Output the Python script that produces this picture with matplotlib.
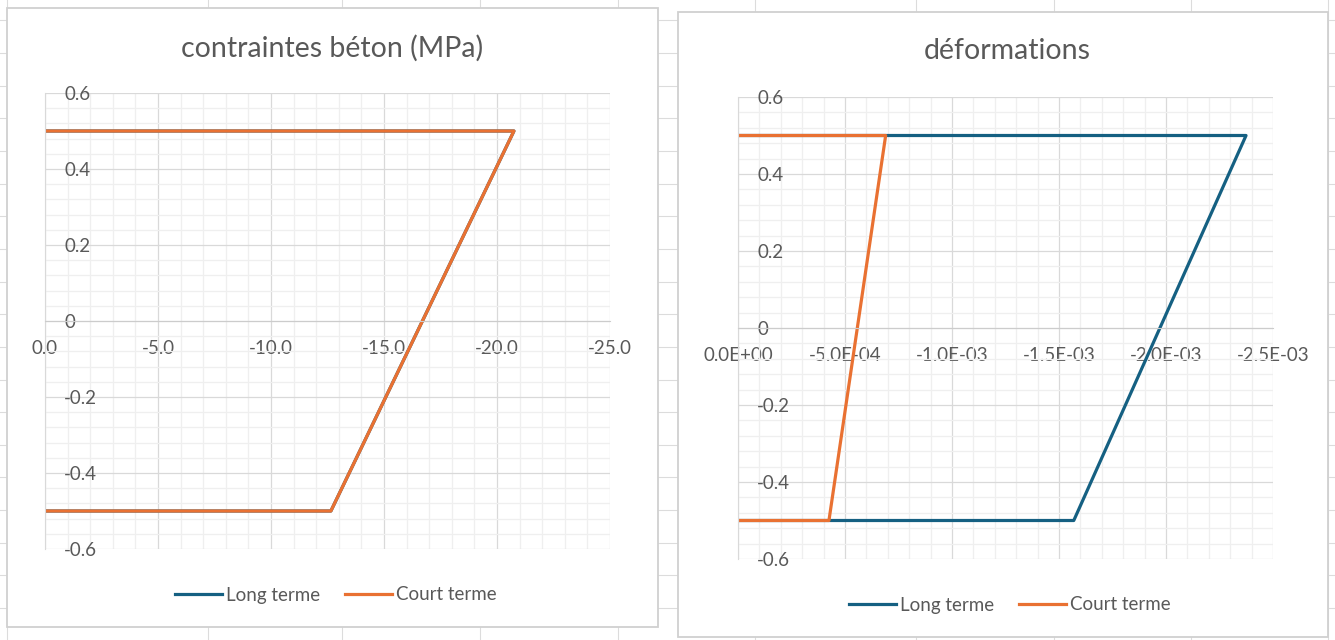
import matplotlib
matplotlib.use("Agg")
import matplotlib.pyplot as plt
from matplotlib.patches import Rectangle
from matplotlib.ticker import FixedLocator, MultipleLocator, FixedFormatter
import numpy as np

plt.rcParams['font.family'] = ['Lato', 'DejaVu Sans']

# Data
depth = [0.5, 0.5, -0.5, -0.5]

stress_long = [0.0, -20.75, -12.65, 0.0]
stress_court = [0.0, -20.75, -12.65, 0.0]

strain_long = [0.0, -2.374e-3, -1.569e-3, 0.0]
strain_court = [0.0, -6.9e-4, -4.25e-4, 0.0]

y_ticks = [0.6, 0.4, 0.2, 0.0, -0.2, -0.4, -0.6]
y_labels = ["0.6", "0.4", "0.2", "0", "-0.2", "-0.4", "-0.6"]

stress_ticks = [0.0, -5.0, -10.0, -15.0, -20.0, -25.0]
stress_labels = ["0.0", "-5.0", "-10.0", "-15.0", "-20.0", "-25.0"]

strain_ticks = [0.0, -5e-4, -1e-3, -1.5e-3, -2e-3, -2.5e-3]
strain_labels = ["0.0E+00", "-5.0E-04", "-1.0E-03", "-1.5E-03", "-2.0E-03", "-2.5E-03"]

series_names = ["Long terme", "Court terme"]

# Style
BLUE = "#156082"
ORANGE = "#E97132"
TEXT = "#595959"
MAJOR = "#d9d9d9"
MINOR = "#efefef"
W, H = 1335, 640

fig = plt.figure(figsize=(W / 100, H / 100), dpi=100)
fig.patch.set_facecolor("white")

# spreadsheet background (cell grid + chart boxes), in pixel coords
bg = fig.add_axes([0, 0, 1, 1])
bg.set_xlim(0, W)
bg.set_ylim(H, 0)
bg.axis("off")
for cx in [7, 208, 342, 480, 618, 755, 916, 1054, 1191, 1328]:
    bg.axvline(cx, color="#dcdcdc", lw=0.8, zorder=0)
for ry in np.arange(20.4, H, 32.65):
    bg.axhline(ry, color="#dcdcdc", lw=0.8, zorder=0)
for (x0, y0, x1, y1) in [(7, 7.5, 658, 627), (678, 12, 1328, 637)]:
    bg.add_patch(Rectangle((x0, y0), x1 - x0, y1 - y0, facecolor="white",
                           edgecolor="#d0d0d0", lw=1.3, zorder=1))


def px_axes(x0, y0, x1, y1):
    return fig.add_axes([x0 / W, 1 - y1 / H, (x1 - x0) / W, (y1 - y0) / H])


def style(ax, xticks, xlabels, xminor, xmax):
    ax.set_facecolor("none")
    ax.set_xlim(0, xmax)
    ax.set_ylim(-0.6, 0.6)
    ax.xaxis.set_major_locator(FixedLocator(xticks))
    ax.xaxis.set_major_formatter(FixedFormatter(xlabels))
    ax.xaxis.set_minor_locator(MultipleLocator(xminor))
    ax.yaxis.set_major_locator(FixedLocator(y_ticks))
    ax.yaxis.set_major_formatter(FixedFormatter(y_labels))
    ax.yaxis.set_minor_locator(MultipleLocator(0.04))
    ax.grid(which="major", color=MAJOR, lw=0.9)
    ax.grid(which="minor", color=MINOR, lw=0.9)
    ax.set_axisbelow(True)
    for s in ["top", "right"]:
        ax.spines[s].set_visible(False)
    ax.spines["bottom"].set_position(("data", 0))
    ax.spines["bottom"].set_color("#cccccc")
    ax.spines["left"].set_color(MAJOR)
    ax.tick_params(which="both", length=0, labelcolor=TEXT, labelsize=13.5)
    ax.tick_params(axis="x", pad=14)
    ax.tick_params(axis="y", pad=-13.7)
    for lbl in ax.get_yticklabels():
        lbl.set_horizontalalignment("left")


def legend(ax, cx, cy):
    handles, labels = ax.get_legend_handles_labels()
    fig.legend(handles, labels, loc="center", bbox_to_anchor=(cx / W, 1 - cy / H),
               ncol=2, frameon=False, fontsize=13.5, labelcolor=TEXT,
               handlelength=2.5, handletextpad=0.25, columnspacing=1.3)


# left chart: stresses
ax1 = px_axes(45, 93, 610, 549)
ax1.plot(stress_long, depth, color=BLUE, lw=2.3, label=series_names[0])
ax1.plot(stress_court, depth, color=ORANGE, lw=2.3, label=series_names[1])
style(ax1, stress_ticks, stress_labels, 1.0, -25.0)
fig.text(332 / W, 1 - 48 / H, "contraintes béton (MPa)", ha="center", va="center",
         fontsize=20.5, color=TEXT)
legend(ax1, 336, 595)

# right chart: strains
ax2 = px_axes(738, 97, 1273, 559)
ax2.plot(strain_long, depth, color=BLUE, lw=2.3, label=series_names[0])
ax2.plot(strain_court, depth, color=ORANGE, lw=2.3, label=series_names[1])
style(ax2, strain_ticks, strain_labels, 1e-4, -2.5e-3)
fig.text(1007 / W, 1 - 51 / H, "déformations", ha="center", va="center",
         fontsize=20.5, color=TEXT)
legend(ax2, 1010, 605)

fig.savefig("out.png", dpi=100, facecolor="white")
